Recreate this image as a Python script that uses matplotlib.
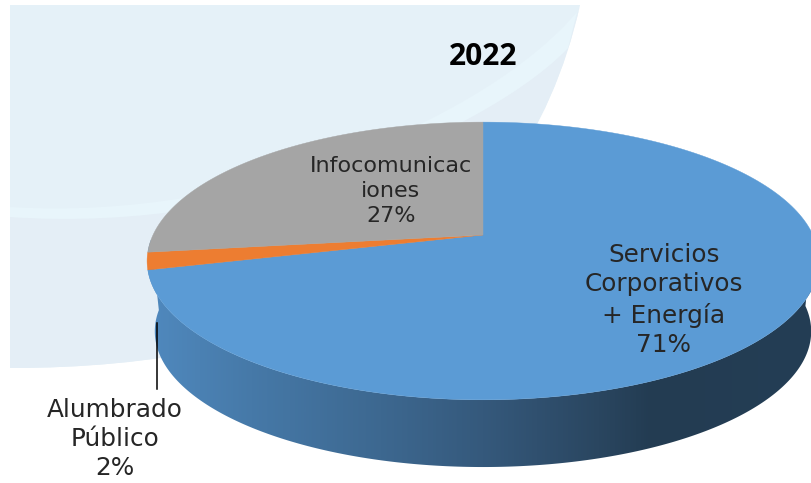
#3D looking pie chart for 2022, drawn on pixel coordinates

import matplotlib
matplotlib.use("Agg")
import matplotlib.pyplot as plt
from matplotlib.colors import LinearSegmentedColormap
from matplotlib.patches import PathPatch, Polygon
from matplotlib.path import Path
import numpy as np

title = "2022"
categories = ["Servicios\nCorporativos\n+ Energía", "Alumbrado\nPúblico", "Infocomunicac\niones"]
shares = [71, 2, 27]
colors = ["#5B9BD5", "#ED7D31", "#A5A5A5"]

W, H = 812, 483
# pie geometry in pixels
cx, cy = 483, 235
rx, ry, k = 330, 134, 0.187
depth, shrink = 71, 0.977


def project(theta):
    # theta clockwise from the top, a circle seen in perspective
    x = np.sin(theta)
    y = np.cos(theta)
    w = 1 + k * y
    return cx + rx * x / w, cy - ry * y / w


fig = plt.figure(figsize=(W / 100, H / 100), dpi=100)
ax = fig.add_axes([0, 0, 1, 1])

# background shape
bg_verts = [(10, 5), (580, 5), (520, 270), (300, 368), (10, 368), (10, 5)]
bg_codes = [Path.MOVETO, Path.LINETO, Path.CURVE4, Path.CURVE4, Path.CURVE4, Path.CLOSEPOLY]
ax.add_patch(PathPatch(Path(bg_verts, bg_codes), fc="#E5F1F8", ec="none", zorder=1))

low_verts = [(10, 217), (270, 235), (500, 120), (568, 48), (580, 5), (520, 270), (300, 368), (10, 368), (10, 217)]
low_codes = [Path.MOVETO, Path.CURVE4, Path.CURVE4, Path.CURVE4, Path.LINETO,
             Path.CURVE4, Path.CURVE4, Path.CURVE4, Path.CLOSEPOLY]
ax.add_patch(PathPatch(Path(low_verts, low_codes), fc="#E4EEF6", ec="none", zorder=2))

band_verts = [(10, 207), (250, 222), (490, 115), (577, 12), (568, 48), (500, 120), (270, 235), (10, 217), (10, 207)]
band_codes = [Path.MOVETO, Path.CURVE4, Path.CURVE4, Path.CURVE4, Path.LINETO,
              Path.CURVE4, Path.CURVE4, Path.CURVE4, Path.CLOSEPOLY]
ax.add_patch(PathPatch(Path(band_verts, band_codes), fc="#E8F5FB", ec="none", zorder=3))

# side wall with horizontal gradient
t = np.linspace(np.pi * 0.5, np.pi * 1.49, 300)
top_x, top_y = project(t)
bot_x = cx + shrink * (top_x - cx)
bot_y = cy + shrink * (top_y - cy) + depth
wall = Polygon(np.column_stack([np.r_[top_x, bot_x[::-1]], np.r_[top_y, bot_y[::-1]]]),
               closed=True, fc="none", ec="none", transform=ax.transData)
ax.add_patch(wall)
side_cmap = LinearSegmentedColormap.from_list(
    "side", [(0, "#5089BE"), (0.155, "#4679A8"), (0.35, "#3D6890"), (0.505, "#35597C"),
             (0.68, "#2A4660"), (0.76, "#233C52"), (1, "#243E55")])
grad = ax.imshow(np.linspace(0, 1, 512).reshape(1, -1), cmap=side_cmap, extent=[148, 812, 483, 0],
                 aspect='auto', zorder=4)
grad.set_clip_path(wall)

# top face, wedges clockwise from the top
edges = np.cumsum([0] + shares) / np.sum(shares) * 2 * np.pi
for i in range(len(shares)):
    th = np.linspace(edges[i], edges[i + 1], 200)
    px, py = project(th)
    ax.fill(np.r_[cx, px], np.r_[cy, py], fc=colors[i], ec=colors[i], lw=0.3, zorder=5)

# labels
txt = "#262626"
ax.text(483, 57, title, ha='center', va='center', fontsize=21.5, fontweight='bold', color="black",
        family='Open Sans', zorder=6)
ax.text(391, 191, "{}\n{}%".format(categories[2], shares[2]), ha='center', va='center',
        fontsize=16, color=txt, linespacing=1.3, zorder=6)
ax.text(664, 300, "{}\n{}%".format(categories[0], shares[0]), ha='center', va='center',
        fontsize=17.8, color=txt, linespacing=1.3, zorder=6)
ax.text(115, 439, "{}\n{}%".format(categories[1], shares[1]), ha='center', va='center',
        fontsize=17.8, color=txt, linespacing=1.27, zorder=6)
ax.plot([157, 157], [323, 389], color="black", lw=1.1, zorder=6)

ax.set_xlim(0, W)
ax.set_ylim(H, 0)
ax.axis('off')

plt.savefig("out.png", dpi=100)
plt.close()
